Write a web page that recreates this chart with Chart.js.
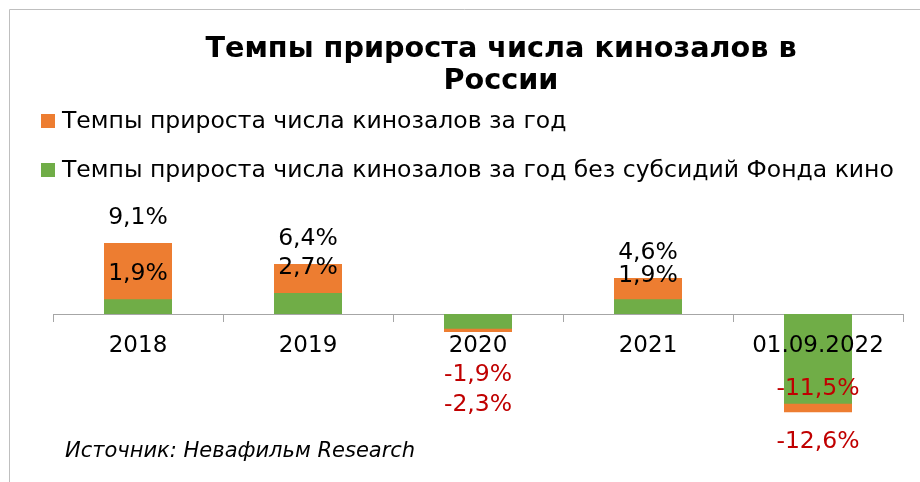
<!DOCTYPE html>
<html>
<head>
<meta charset="utf-8">
<script src="https://cdn.jsdelivr.net/npm/chart.js@4"></script>
<style>
  html, body { margin: 0; padding: 0; background: #fff; }
  #chart { display: block; }
</style>
</head>
<body>
<canvas id="chart" width="920" height="482"></canvas>
<script>
// === DATA ===
const categories = ['2018', '2019', '2020', '2021', '01.09.2022'];
const totalGrowth = [9.1, 6.4, -2.3, 4.6, -12.6];
const growthNoSubsidy = [1.9, 2.7, -1.9, 1.9, -11.5];
const seriesNames = [
  'Темпы прироста числа кинозалов за год',
  'Темпы прироста числа кинозалов за год без субсидий Фонда кино'
];
const titleLines = ['Темпы прироста числа кинозалов в', 'России'];
const sourceNote = 'Источник: Невафильм Research';

// label nudges (px from bar end), not data
const totalLabelDy = [-25, -25, 73, -25, 30];
const noSubsidyLabelDy = [-25, -25, 46, -23, -15];

const FONT = '"DejaVu Sans", Verdana, sans-serif';
const ORANGE = '#ED7D31';
const GREEN = '#70AD47';
const AXIS_GREY = '#A6A6A6';

function fmt(v) {
  return v.toFixed(1).replace('.', ',') + '%';
}

// === DECOR PLUGIN: frame, title, legend, labels, source ===
const decor = {
  id: 'decor',
  beforeDraw(chart) {
    const ctx = chart.ctx;
    ctx.save();
    ctx.fillStyle = '#fff';
    ctx.fillRect(0, 0, chart.width, chart.height);
    ctx.strokeStyle = '#BFBFBF';
    ctx.lineWidth = 1;
    ctx.beginPath();
    ctx.moveTo(9.5, chart.height);
    ctx.lineTo(9.5, 9.5);
    ctx.lineTo(chart.width, 9.5);
    ctx.stroke();

    // title
    ctx.fillStyle = '#000';
    ctx.font = 'bold 28.7px ' + FONT;
    ctx.textAlign = 'center';
    ctx.textBaseline = 'middle';
    ctx.fillText(titleLines[0], 501, 50);
    ctx.fillText(titleLines[1], 501, 82);

    // legend
    const colors = [ORANGE, GREEN];
    const ys = [121, 170];
    ctx.font = '23.5px ' + FONT;
    ctx.textAlign = 'left';
    for (let i = 0; i < 2; i++) {
      ctx.fillStyle = colors[i];
      ctx.fillRect(41, ys[i] - 7, 14, 14);
      ctx.fillStyle = '#000';
      ctx.fillText(seriesNames[i], 62, ys[i] + 1);
    }

    // source
    ctx.font = 'italic 21px ' + FONT;
    ctx.fillText(sourceNote, 65, 452);
    ctx.restore();
  },
  afterDatasetsDraw(chart) {
    const ctx = chart.ctx;
    ctx.save();
    ctx.font = '23.5px ' + FONT;
    ctx.textAlign = 'center';
    ctx.textBaseline = 'middle';
    const nudges = [totalLabelDy, noSubsidyLabelDy];
    chart.data.datasets.forEach(function(ds, di) {
      const meta = chart.getDatasetMeta(di);
      meta.data.forEach(function(el, i) {
        const v = ds.data[i];
        ctx.fillStyle = v < 0 ? '#C00000' : '#000';
        ctx.fillText(fmt(v), el.x, el.y + nudges[di][i]);
      });
    });
    ctx.restore();
  }
};

// === CHART ===
new Chart(document.getElementById('chart'), {
  type: 'bar',
  data: {
    labels: categories,
    datasets: [
      {
        label: seriesNames[0],
        data: totalGrowth,
        backgroundColor: ORANGE,
        grouped: false,
        order: 2,
        categoryPercentage: 1,
        barPercentage: 0.4
      },
      {
        label: seriesNames[1],
        data: growthNoSubsidy,
        backgroundColor: GREEN,
        grouped: false,
        order: 1,
        categoryPercentage: 1,
        barPercentage: 0.4
      }
    ]
  },
  options: {
    responsive: false,
    devicePixelRatio: 1,
    animation: false,
    layout: {
      padding: { left: 53, right: 17, top: 220.4, bottom: 51 }
    },
    plugins: {
      legend: { display: false },
      title: { display: false },
      tooltip: { enabled: false }
    },
    scales: {
      x: {
        position: { y: 0 },
        grid: {
          display: true,
          drawOnChartArea: false,
          drawTicks: true,
          tickLength: 7,
          color: AXIS_GREY,
          offset: true
        },
        border: { display: true, color: AXIS_GREY, width: 1 },
        ticks: {
          z: 1,
          color: '#000',
          font: { family: FONT, size: 23 },
          padding: 11,
          maxRotation: 0,
          autoSkip: false
        }
      },
      y: {
        display: false,
        min: -15,
        max: 12
      }
    }
  },
  plugins: [decor]
});
</script>
</body>
</html>
